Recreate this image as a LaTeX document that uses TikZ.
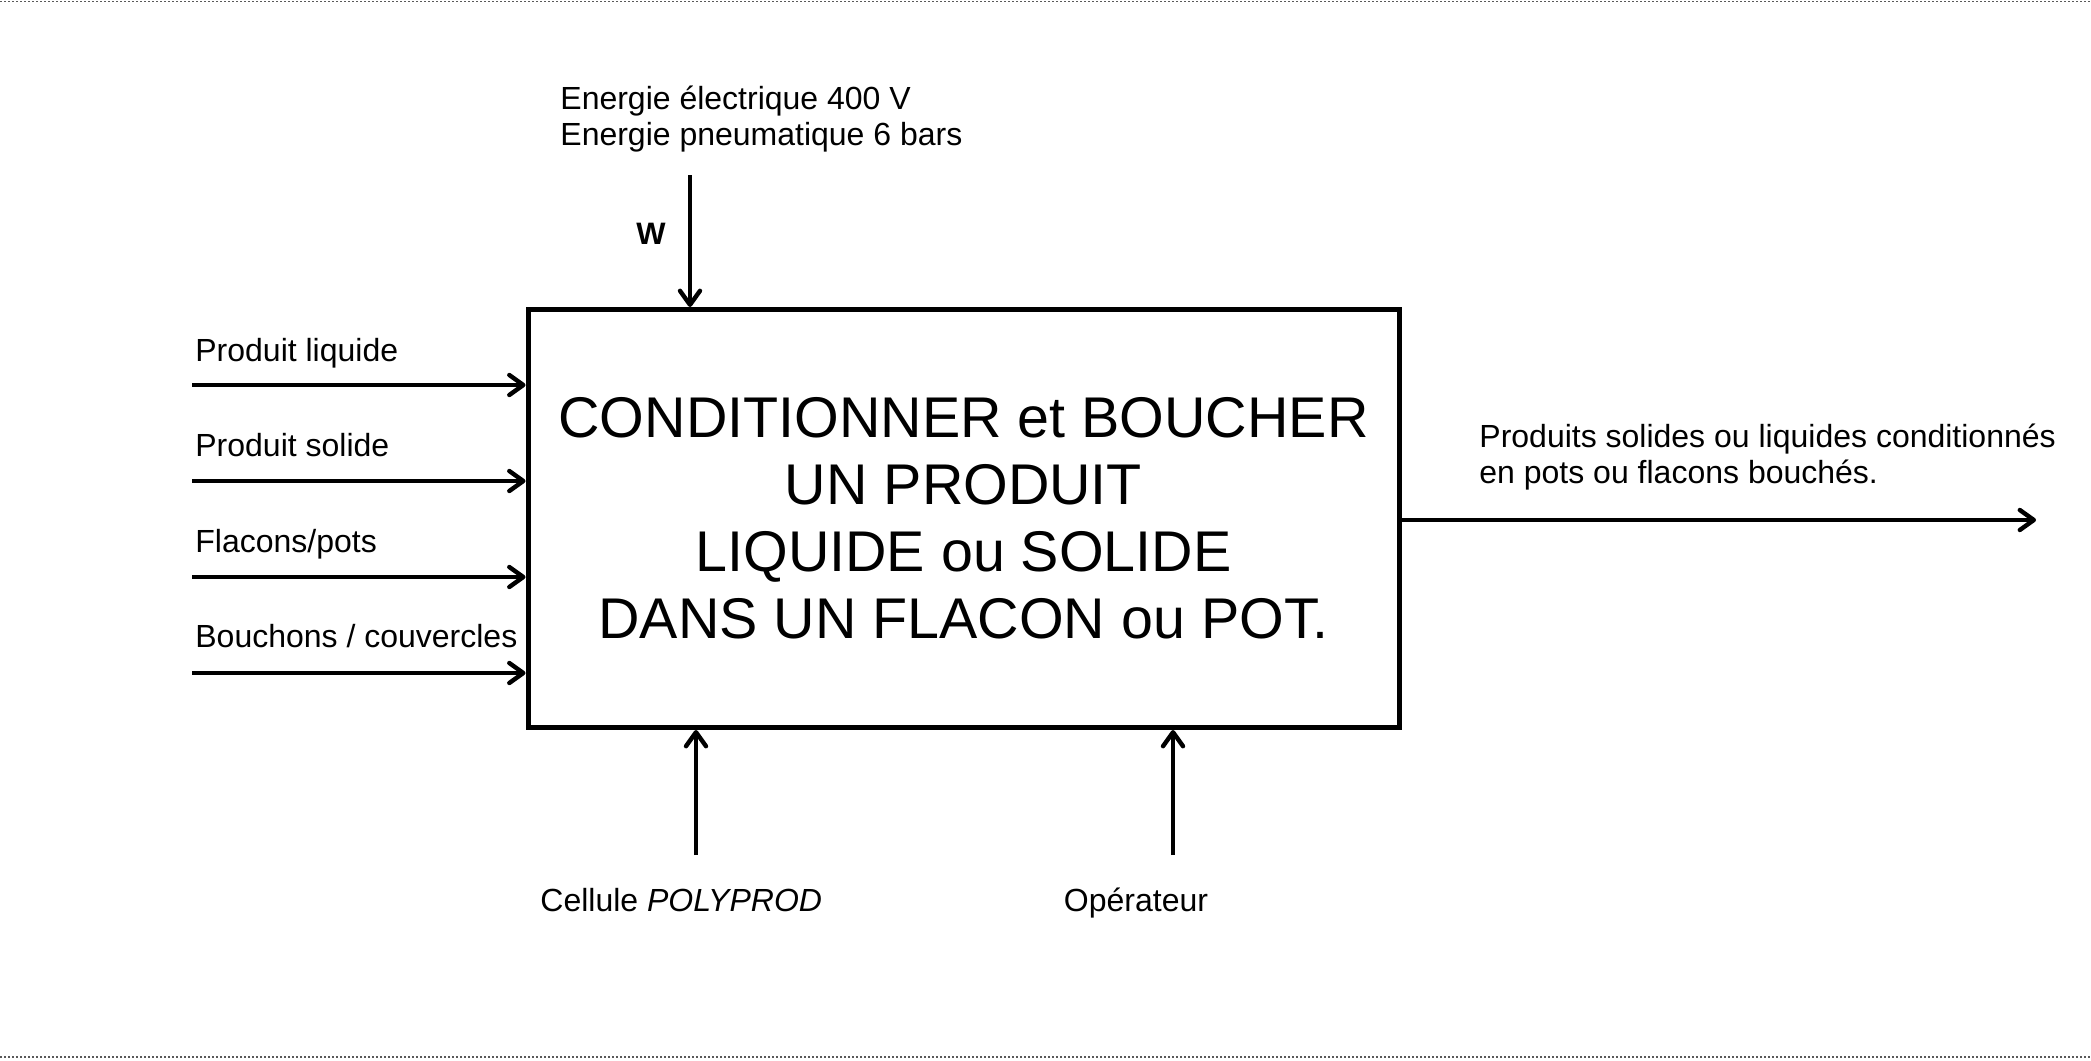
\documentclass[tikz,border=0pt]{standalone}
\usepackage{fontspec}
\setmainfont{Liberation Sans}
\usetikzlibrary{arrows.meta}
\tikzset{
  flow/.style={line width=2.2pt, -{Straight Barb[length=7pt,width=10pt,line width=2.2pt,round]}},
  lbl/.style={inner sep=0pt, anchor=base west, font=\fontsize{16pt}{18pt}\selectfont},
  lblc/.style={inner sep=0pt, anchor=base, font=\fontsize{16pt}{18pt}\selectfont},
  mainbox/.style={draw, line width=2.5pt, minimum width=435.5pt, minimum height=209pt,
    align=center, inner sep=0pt, font=\fontsize{28.7pt}{33.5pt}\selectfont},
  sepline/.style={draw=black!65, line width=0.8pt, dash pattern=on 1pt off 1pt}
}
\begin{document}
\begin{tikzpicture}[x=0.5pt,y=-0.5pt]
\useasboundingbox (0,0) rectangle (2091,1060);
% dotted separators
\coordinate (tl) at (0,1.5); \coordinate (tr) at (2091,1.5);
\coordinate (bl) at (0,1057); \coordinate (br) at (2091,1057);
\draw[sepline] (tl) -- (tr);
\draw[sepline] (bl) -- (br);

\node[mainbox] (box) at (963.5,518.5) {CONDITIONNER et BOUCHER\\UN PRODUIT\\LIQUIDE ou SOLIDE\\DANS UN FLACON ou POT.};

% inputs
\node[lbl] (l1) at (195,361) {Produit liquide};
\node[lbl] (l2) at (195,456) {Produit solide};
\node[lbl] (l3) at (195,552) {Flacons/pots};
\node[lbl] (l4) at (195,647) {Bouchons / couvercles};
\coordinate (i1) at (192,385);
\coordinate (i2) at (192,481);
\coordinate (i3) at (192,577);
\coordinate (i4) at (192,673);
\draw[flow] (i1) -- (i1 -| box.west);
\draw[flow] (i2) -- (i2 -| box.west);
\draw[flow] (i3) -- (i3 -| box.west);
\draw[flow] (i4) -- (i4 -| box.west);

% energy
\node[lbl] (e1) at (560,109) {Energie électrique 400 V};
\node[lbl] (e2) at (560,145) {Energie pneumatique 6 bars};
\node[inner sep=0pt, font=\fontsize{15.5pt}{17pt}\selectfont\bfseries] (w) at (651,234) {W};
\coordinate (wt) at (690,175);
\draw[flow] (wt) -- (wt |- box.north);

% output
\node[lbl] (o1) at (1479,447) {Produits solides ou liquides conditionnés};
\node[lbl] (o2) at (1479,483) {en pots ou flacons bouchés.};
\coordinate (out) at (2036,520);
\draw[flow] (out -| box.east) -- (out);

% supports
\coordinate (s1) at (696,855);
\coordinate (s2) at (1173,855);
\draw[flow] (s1) -- (s1 |- box.south);
\draw[flow] (s2) -- (s2 |- box.south);
\node[lbl] (c1) at (540,911) {Cellule \textit{POLYPROD}};
\node[lblc] (c2) at (1136,911) {Opérateur};
\end{tikzpicture}
\end{document}
